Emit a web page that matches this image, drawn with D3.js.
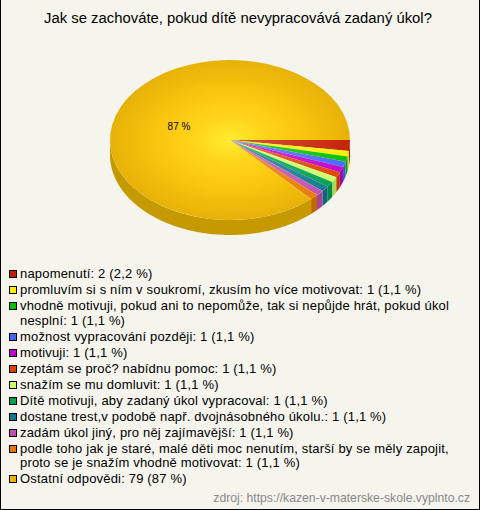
<!DOCTYPE html>
<html><head><meta charset="utf-8">
<script src="https://cdn.jsdelivr.net/npm/d3@7"></script>
<style>html,body{margin:0;padding:0;background:#fff;overflow:hidden}svg{display:block}text{font-family:"Liberation Sans",Arial,sans-serif}</style>
</head><body><svg id="c" width="480" height="510"></svg>
<script>
const titleText = "Jak se zachováte, pokud dítě nevypracovává zadaný úkol?";
const values = [2,1,1,1,1,1,1,1,1,1,1,79];
const colors = ["#c41e00","#ffee00","#00c000","#4466ff","#c000c8","#e04000","#ccff66","#00a050","#107890","#c050b0","#e87800","#e8b400"];
const legendLines = [
 ["napomenutí: 2 (2,2 %)"],
 ["promluvím si s ním v soukromí, zkusím ho více motivovat: 1 (1,1 %)"],
 ["vhodně motivuji, pokud ani to nepomůže, tak si nepůjde hrát, pokud úkol","nesplní: 1 (1,1 %)"],
 ["možnost vypracování později: 1 (1,1 %)"],
 ["motivuji: 1 (1,1 %)"],
 ["zeptám se proč? nabídnu pomoc: 1 (1,1 %)"],
 ["snažím se mu domluvit: 1 (1,1 %)"],
 ["Dítě motivuji, aby zadaný úkol vypracoval: 1 (1,1 %)"],
 ["dostane trest,v podobě např. dvojnásobného úkolu.: 1 (1,1 %)"],
 ["zadám úkol jiný, pro něj zajímavější: 1 (1,1 %)"],
 ["podle toho jak je staré, malé děti moc nenutím, starší by se měly zapojit,","proto se je snažím vhodně motivovat: 1 (1,1 %)"],
 ["Ostatní odpovědi: 79 (87 %)"]
];
const pieLabel = "87 %";
const sourceText = "zdroj: https://kazen-v-materske-skole.vyplnto.cz";

const svg = d3.select("#c");
const defs = svg.append("defs");
const W=480,H=510,cx=230,cy=140,rx=120,ry=80,depth=15;
svg.append("rect").attr("width",W).attr("height",H).attr("fill","#000");
svg.append("rect").attr("x",1).attr("y",0).attr("width",W-2).attr("height",H-1).attr("fill","#f5f5ee");
svg.append("text").attr("x",238).attr("y",23).attr("text-anchor","middle").attr("font-size",14.85).attr("fill","#000").text(titleText);

const slices = d3.pie().sort(null).startAngle(Math.PI/2).endAngle(Math.PI/2+2*Math.PI)(values);
const arc = d3.arc().innerRadius(0).outerRadius(rx);
const rim = d=>d3.line().x(a=>cx+rx*Math.sin(a)).y(a=>cy-ry*Math.cos(a)+d);
// front walls
const wallG = svg.append("g");
slices.forEach((p,i)=>{
  const a0=Math.max(p.startAngle,Math.PI/2), a1=Math.min(p.endAngle,3*Math.PI/2);
  if(a1<=a0) return;
  const pts=d3.range(a0,a1,0.01).concat([a1]);
  const upper=rim(0)(pts);
  const lower=rim(depth)(pts.slice().reverse());
  wallG.append("path").attr("d",upper+"L"+lower.slice(1)+"Z")
    .attr("fill",d3.rgb(colors[i]).darker(0.45).formatHex());
});
// top face
const face = svg.append("g").attr("transform",`translate(${cx},${cy}) scale(1,${ry/rx})`);
slices.forEach((p,i)=>{
  const c=d3.rgb(colors[i]);
  const mix=d3.interpolateRgb(c,"#fff");
  const id="g"+i;
  const g=defs.append("radialGradient").attr("id",id).attr("gradientUnits","userSpaceOnUse").attr("cx",0).attr("cy",0).attr("r",rx);
  g.append("stop").attr("offset",0).attr("stop-color",i==11?"#ffec30":mix(0.25));
  g.append("stop").attr("offset",0.3).attr("stop-color",i==11?"#ffd41a":mix(0.18));
  g.append("stop").attr("offset",0.6).attr("stop-color",i==11?"#fac60f":mix(0.12));
  g.append("stop").attr("offset",1).attr("stop-color",i==11?"#e6b208":mix(0.03));
  face.append("path").attr("d",arc(p)).attr("fill",`url(#${id})`);
});
svg.append("text").attr("x",179).attr("y",130).attr("text-anchor","middle").attr("font-size",10).attr("fill","#000").text(pieLabel);

// legend
const lg=svg.append("g");
let y=278; const step=16, lh=14.5;
legendLines.forEach((lines,i)=>{
  lg.append("rect").attr("x",9.5).attr("y",Math.round(y)-7.5).attr("width",7).attr("height",7).attr("fill",colors[i]).attr("stroke","#000");
  lines.forEach((t,j)=>lg.append("text").attr("x",20).attr("y",y+j*lh).attr("font-size",13).attr("letter-spacing",0.18).attr("fill","#000").text(t));
  y+=step+(lines.length-1)*lh;
});
svg.append("text").attr("x",470).attr("y",502).attr("text-anchor","end").attr("font-size",12.2).attr("fill","#888").text(sourceText);
</script></body></html>
